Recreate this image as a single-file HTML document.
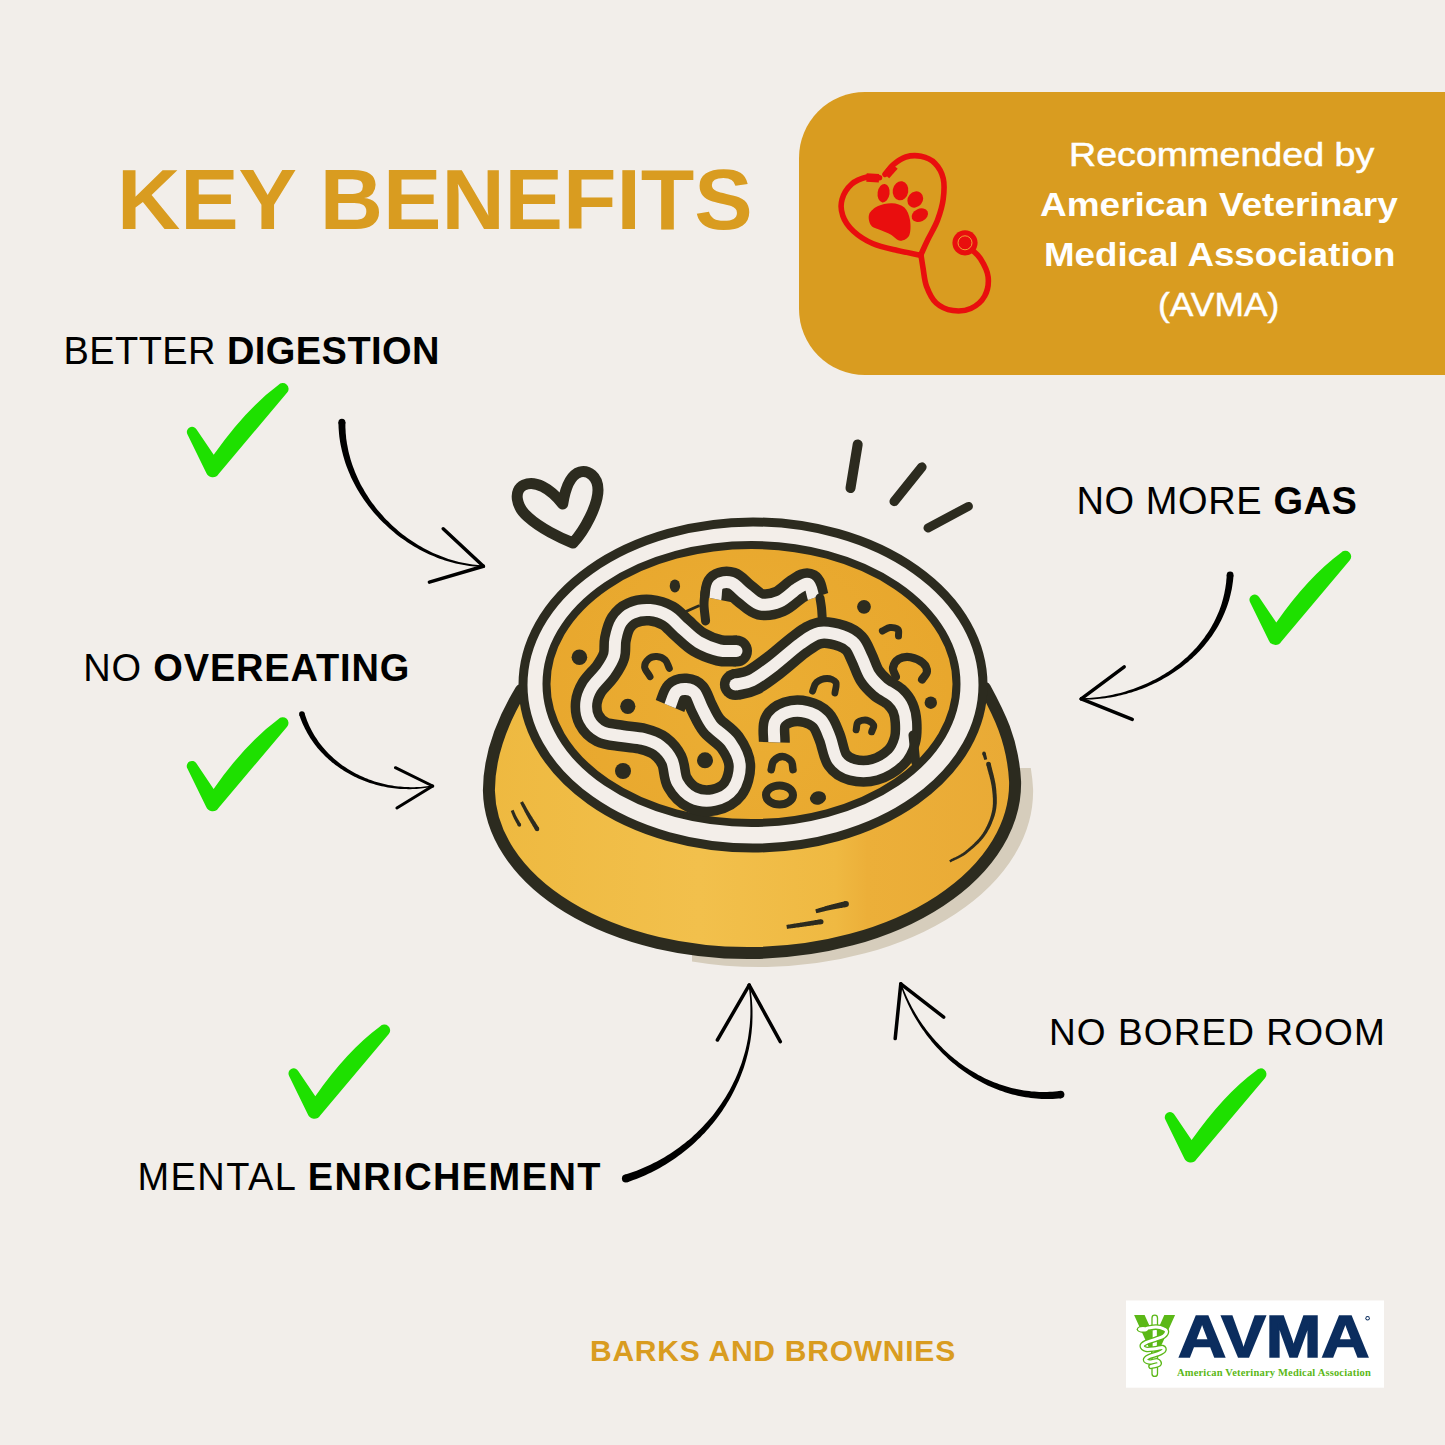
<!DOCTYPE html>
<html><head><meta charset="utf-8">
<style>
html,body{margin:0;padding:0;}
body{width:1445px;height:1445px;background:#F2EEEA;position:relative;overflow:hidden;font-family:"Liberation Sans",sans-serif;}
.t{position:absolute;white-space:nowrap;line-height:1;}
.b{font-weight:bold;}
svg{position:absolute;left:0;top:0;}
</style></head><body>
<div id="box" style="position:absolute;left:799px;top:92px;width:700px;height:283px;background:#D99C20;border-radius:66px 0 0 66px;"></div>
<svg id="art" width="1445" height="1445" viewBox="0 0 1445 1445">
<defs><linearGradient id="bg1" gradientUnits="userSpaceOnUse" x1="488" y1="0" x2="1015" y2="0"><stop offset="0" stop-color="#EEB940"/><stop offset="0.4" stop-color="#F2C04C"/><stop offset="0.66" stop-color="#EFB942"/><stop offset="0.72" stop-color="#ECAF39"/><stop offset="1" stop-color="#E9AA35"/></linearGradient><radialGradient id="fg1" gradientUnits="userSpaceOnUse" cx="740" cy="700" r="210"><stop offset="0" stop-color="#EBAE34"/><stop offset="1" stop-color="#E8A72D"/></radialGradient></defs><clipPath id="shc"><path d="M680 1100V900L1000 760H1100V1100Z"/></clipPath><path clip-path="url(#shc)" transform="translate(12 8)" d="M521 690C506 715 489 750 488.9 790.4A263.1 166.9 -0.95 0 0 1015.1 781.6C1013 740 998 712 985 688C950 630 755 560 560 620Z" fill="#D6CDBC" stroke="#D6CDBC" stroke-width="12"/><path d="M521 690C506 715 489 750 488.9 790.4A263.1 166.9 -0.95 0 0 1015.1 781.6C1013 740 998 712 985 688C950 630 755 560 560 620Z" fill="url(#bg1)"/><path d="M521 690C506 715 489 750 488.9 790.4A263.1 166.9 -0.95 0 0 1015.1 781.6C1013 740 998 712 985 688" fill="none" stroke="#2C2B1F" stroke-width="12" stroke-linecap="round"/><ellipse cx="753" cy="685" rx="230" ry="163" fill="#F3EEE9" stroke="#2C2B1F" stroke-width="9"/><ellipse cx="751.5" cy="684" rx="205" ry="139" fill="url(#fg1)" stroke="#2C2B1F" stroke-width="8"/><g fill="none" stroke="#2C2B1F" stroke-width="31" stroke-linecap="butt" stroke-linejoin="round"><path d="M736.5 651C730.7 650.8 725.6 651.8 719.2 650.3C712.9 648.8 704.6 645.7 698.4 642C692.2 638.3 686.9 632.5 681.8 628.1C676.7 623.7 673.3 618.7 668 615.7C662.7 612.7 656 610.6 650 610.1C644 609.6 636.9 610.8 632 612.9C627.1 615 623.7 618.2 620.9 622.6C618.1 627 616.5 633.7 615.4 639.2C614.2 644.7 615.6 650.5 614 655.8C612.4 661.1 609.4 665.7 605.7 671C602 676.3 595 682.3 591.8 687.6C588.6 692.9 586.8 697.6 586.3 702.9C585.8 708.2 586.5 714.7 589 719.5C591.5 724.3 596 729.1 601.5 731.9C607 734.7 615.4 734.9 622.3 736.1C629.2 737.3 636.8 737.3 643 738.9C649.2 740.5 654.9 742.2 659.7 745.8C664.5 749.4 668.8 754.2 671.8 760.3C674.8 766.4 673.9 776.2 677.4 782.4C680.9 788.6 686.5 794.7 692.6 797.6C698.7 800.5 707.3 801.4 714 800C720.7 798.6 728.7 794.8 733 789C737.3 783.2 740.2 772.8 739.7 765C739.2 757.2 734.6 748.8 730 742.3C725.4 735.8 716.7 731.4 712 725.7C707.3 720 704.8 713.5 702 708C699.2 702.5 697.7 696.2 695 693C692.3 689.8 689.2 689.2 686 689C682.8 688.8 678.7 689.2 676 692C673.3 694.8 672 701.3 670 706"/><path d="M715.3 599C716.2 594.3 715.5 587.6 718.1 584.9C720.8 582.2 726.7 581.3 731.2 582.8C735.7 584.3 740.1 590.3 745 593.9C749.9 597.5 754.5 603 760.3 604.3C766.1 605.6 773.5 604.1 779.7 601.5C785.9 598.9 792.8 591.3 797.6 588.4C802.4 585.5 806 582.6 808.7 584.2C811.4 585.8 812 593.4 813.6 598"/><path d="M735.4 684.6C740.9 683.2 745.5 683.6 752 680.4C758.5 677.2 766.1 671.3 774.1 665.2C782.1 659.1 792.5 649.4 800 644C807.5 638.6 812.4 634.4 819.4 633C826.4 631.6 835.9 634.1 841.7 635.9C847.5 637.7 850.9 639.9 854.3 643.6C857.7 647.3 859.4 652.8 862 658.1C864.6 663.4 866.7 670.8 869.8 675.6C872.9 680.5 876.2 683.6 880.4 687.2C884.6 690.8 891.2 693.5 895 697C898.8 700.5 901.2 703.8 903 708C904.8 712.2 905.7 716.7 906 722C906.3 727.3 906.7 734.2 905 740C903.3 745.8 901.1 752 896 757C890.9 762 881.9 767.6 874.6 769.7C867.3 771.8 858.3 771.4 852.1 769.7C845.9 768.1 840.9 765.2 837.2 759.8C833.5 754.4 832.4 743.9 829.7 737.3C827 730.6 825 724.1 821 719.9C817 715.6 811.6 713 806 711.8C800.4 710.5 792.6 710.6 787.4 712.4C782.2 714.2 777.1 717.4 774.9 722.4C772.7 727.4 774.5 735.7 774.3 742.3"/></g><g fill="#2C2B1F"><circle cx="736.5" cy="651" r="15.5"/><circle cx="735.4" cy="684.6" r="15.5"/></g><g fill="none" stroke="#F3EEE9" stroke-width="12" stroke-linecap="butt" stroke-linejoin="round"><path d="M736.5 651C730.7 650.8 725.6 651.8 719.2 650.3C712.9 648.8 704.6 645.7 698.4 642C692.2 638.3 686.9 632.5 681.8 628.1C676.7 623.7 673.3 618.7 668 615.7C662.7 612.7 656 610.6 650 610.1C644 609.6 636.9 610.8 632 612.9C627.1 615 623.7 618.2 620.9 622.6C618.1 627 616.5 633.7 615.4 639.2C614.2 644.7 615.6 650.5 614 655.8C612.4 661.1 609.4 665.7 605.7 671C602 676.3 595 682.3 591.8 687.6C588.6 692.9 586.8 697.6 586.3 702.9C585.8 708.2 586.5 714.7 589 719.5C591.5 724.3 596 729.1 601.5 731.9C607 734.7 615.4 734.9 622.3 736.1C629.2 737.3 636.8 737.3 643 738.9C649.2 740.5 654.9 742.2 659.7 745.8C664.5 749.4 668.8 754.2 671.8 760.3C674.8 766.4 673.9 776.2 677.4 782.4C680.9 788.6 686.5 794.7 692.6 797.6C698.7 800.5 707.3 801.4 714 800C720.7 798.6 728.7 794.8 733 789C737.3 783.2 740.2 772.8 739.7 765C739.2 757.2 734.6 748.8 730 742.3C725.4 735.8 716.7 731.4 712 725.7C707.3 720 704.8 713.5 702 708C699.2 702.5 697.7 696.2 695 693C692.3 689.8 689.2 689.2 686 689C682.8 688.8 678.7 689.2 676 692C673.3 694.8 672 701.3 670 706"/><path d="M715.3 599C716.2 594.3 715.5 587.6 718.1 584.9C720.8 582.2 726.7 581.3 731.2 582.8C735.7 584.3 740.1 590.3 745 593.9C749.9 597.5 754.5 603 760.3 604.3C766.1 605.6 773.5 604.1 779.7 601.5C785.9 598.9 792.8 591.3 797.6 588.4C802.4 585.5 806 582.6 808.7 584.2C811.4 585.8 812 593.4 813.6 598"/><path d="M735.4 684.6C740.9 683.2 745.5 683.6 752 680.4C758.5 677.2 766.1 671.3 774.1 665.2C782.1 659.1 792.5 649.4 800 644C807.5 638.6 812.4 634.4 819.4 633C826.4 631.6 835.9 634.1 841.7 635.9C847.5 637.7 850.9 639.9 854.3 643.6C857.7 647.3 859.4 652.8 862 658.1C864.6 663.4 866.7 670.8 869.8 675.6C872.9 680.5 876.2 683.6 880.4 687.2C884.6 690.8 891.2 693.5 895 697C898.8 700.5 901.2 703.8 903 708C904.8 712.2 905.7 716.7 906 722C906.3 727.3 906.7 734.2 905 740C903.3 745.8 901.1 752 896 757C890.9 762 881.9 767.6 874.6 769.7C867.3 771.8 858.3 771.4 852.1 769.7C845.9 768.1 840.9 765.2 837.2 759.8C833.5 754.4 832.4 743.9 829.7 737.3C827 730.6 825 724.1 821 719.9C817 715.6 811.6 713 806 711.8C800.4 710.5 792.6 710.6 787.4 712.4C782.2 714.2 777.1 717.4 774.9 722.4C772.7 727.4 774.5 735.7 774.3 742.3"/></g><g fill="#F3EEE9"><circle cx="736.5" cy="651" r="6"/><circle cx="735.4" cy="684.6" r="6"/></g><g fill="none" stroke="#2C2B1F" stroke-width="9" stroke-linecap="round"><path d="M705.6 621C705.1 615.7 704.1 609.8 704 605C703.9 600.2 704.7 596.3 705 592"/><path d="M822.3 619.4C822 615.6 821.9 611.6 821.5 608C821.1 604.4 820.5 601.3 820 598"/><path d="M913 735C913.5 740 914 745.5 914.5 750C915 754.5 915.3 758 915.7 762"/></g><path d="M686 611.5L698.4 606" stroke="#2C2B1F" stroke-width="3" stroke-linecap="round"/><g fill="#2C2B1F"><circle cx="579.4" cy="657.2" r="7.8"/><circle cx="627.8" cy="706.3" r="7.6"/><circle cx="623" cy="771" r="8"/><circle cx="705" cy="760.3" r="8"/><circle cx="864" cy="606.8" r="6.9"/><circle cx="930.8" cy="702.7" r="6.2"/><ellipse cx="674.9" cy="585.9" rx="5.2" ry="6.5"/><ellipse cx="818" cy="798" rx="8.1" ry="6.6" transform="rotate(-15 818 798)"/></g><ellipse cx="779.5" cy="795" rx="13.5" ry="9.5" fill="none" stroke="#2C2B1F" stroke-width="8"/><g fill="none" stroke="#2C2B1F" stroke-linecap="round" stroke-linejoin="round"><path d="M650 676.6C648.2 673.4 644.8 669.9 644.6 667C644.4 664.1 646.6 660.8 648.6 659C650.6 657.2 654.1 656.3 656.9 656.5C659.7 656.7 663.1 658 665.2 660C667.3 662 667.9 665.5 669.3 668.3" stroke-width="7"/><path d="M882.4 631C884.9 629.8 887.4 627.8 890 627.5C892.6 627.2 896.6 628.1 898 629.5C899.4 630.9 898.3 633.8 898.5 636" stroke-width="7"/><path d="M895.9 676.6C894.9 673.7 892.5 670.7 893 667.8C893.5 664.9 895.9 660.9 898.8 659.1C901.7 657.3 906.5 656.6 910.5 657.2C914.5 657.9 920.3 660.6 923 663C925.7 665.4 927 669 926.9 671.7C926.8 674.5 923.7 676.9 922.1 679.5" stroke-width="8.2"/><path d="M812.6 691.1C813.9 688.2 814.1 684.5 816.5 682.4C818.9 680.3 823.9 678.5 827.1 678.5C830.3 678.5 834.6 680 835.9 682.4C837.2 684.8 835.2 689.5 834.9 693" stroke-width="6.8"/><path d="M856.2 729.8C856.8 727.2 856.3 723.7 858.1 722.1C859.9 720.5 864.3 719.7 866.9 720.2C869.5 720.7 872.8 723.1 873.6 725C874.4 726.9 872.3 729.5 871.7 731.8" stroke-width="7"/><path d="M771.2 769.7C772 766.8 771.8 763.2 773.7 761C775.6 758.8 779.5 756.6 782.4 756.6C785.3 756.6 789.3 758.8 791.1 761C792.9 763.2 792.4 766.8 793 769.7" stroke-width="7.5"/></g><g fill="#2C2B1F"><path d="M539 827.8 L538.6 827.2 L538.2 826.6 L537.8 826 L537.4 825.3 L537 824.7 L536.6 824.1 L536.2 823.4 L535.8 822.8 L535.4 822.1 L535 821.5 L534.6 820.9 L534.1 820.2 L533.7 819.6 L533.3 819 L532.9 818.4 L532.6 817.7 L532.2 817.1 L531.8 816.5 L531.4 815.9 L531 815.3 L530.7 814.8 L530.3 814.2 L530 813.6 L529.6 813.1 L529.3 812.5 L529 812 L528.7 811.5 L528.4 810.9 L528.1 810.4 L527.8 809.9 L527.5 809.4 L527.2 808.9 L526.9 808.4 L526.7 808 L526.4 807.5 L526.1 807 L525.9 806.5 L525.6 806 L525.3 805.6 L525.1 805.1 L524.8 804.6 L524.5 804.1 L524.3 803.7 L524 803.2 L523.7 802.7 L523.5 802.2 L523.2 801.7 L522.9 801.2 L520.1 802.8 L520.3 803.3 L520.6 803.8 L520.9 804.2 L521.1 804.7 L521.3 805.2 L521.6 805.7 L521.8 806.2 L522.1 806.7 L522.3 807.2 L522.6 807.6 L522.8 808.1 L523.1 808.6 L523.3 809.1 L523.6 809.6 L523.8 810.1 L524.1 810.6 L524.3 811.1 L524.6 811.7 L524.9 812.2 L525.2 812.7 L525.5 813.3 L525.8 813.8 L526.1 814.4 L526.4 814.9 L526.7 815.5 L527 816.1 L527.4 816.7 L527.7 817.3 L528 817.9 L528.4 818.6 L528.8 819.2 L529.1 819.8 L529.5 820.5 L529.9 821.1 L530.3 821.7 L530.6 822.4 L531 823 L531.4 823.7 L531.8 824.3 L532.2 825 L532.5 825.7 L532.9 826.3 L533.3 827 L533.7 827.6 L534.1 828.3 L534.4 828.9 L534.8 829.5 L535.2 830.2Z"/><circle cx="537.1" cy="829" r="2.2"/><path d="M520.9 824 L520.7 823.7 L520.5 823.4 L520.3 823 L520.1 822.7 L519.9 822.4 L519.7 822 L519.5 821.7 L519.4 821.4 L519.2 821 L519 820.7 L518.8 820.4 L518.6 820 L518.4 819.7 L518.2 819.4 L518 819.1 L517.8 818.7 L517.6 818.4 L517.4 818.1 L517.3 817.8 L517.1 817.5 L516.9 817.2 L516.8 816.9 L516.6 816.6 L516.4 816.3 L516.3 816 L516.2 815.7 L516 815.4 L515.9 815.2 L515.8 814.9 L515.6 814.6 L515.5 814.4 L515.4 814.1 L515.3 813.8 L515.2 813.6 L515.1 813.3 L514.9 813 L514.8 812.8 L514.7 812.5 L514.6 812.2 L514.5 812 L514.4 811.7 L514.3 811.5 L514.2 811.2 L514.1 810.9 L513.9 810.6 L513.8 810.4 L513.7 810.1 L513.6 809.8 L510.8 811 L510.9 811.3 L511 811.5 L511.1 811.8 L511.2 812.1 L511.3 812.3 L511.4 812.6 L511.5 812.9 L511.6 813.1 L511.7 813.4 L511.9 813.7 L512 813.9 L512.1 814.2 L512.2 814.5 L512.3 814.8 L512.4 815 L512.5 815.3 L512.6 815.6 L512.7 815.9 L512.9 816.2 L513 816.5 L513.1 816.8 L513.3 817.1 L513.4 817.4 L513.6 817.7 L513.7 818 L513.9 818.4 L514 818.7 L514.2 819 L514.4 819.3 L514.5 819.7 L514.7 820 L514.9 820.3 L515.1 820.7 L515.3 821 L515.5 821.4 L515.6 821.7 L515.8 822 L516 822.4 L516.2 822.7 L516.4 823.1 L516.6 823.4 L516.8 823.7 L517 824.1 L517.1 824.4 L517.3 824.8 L517.5 825.1 L517.7 825.4 L517.9 825.8Z"/><circle cx="519.4" cy="824.9" r="1.8"/><path d="M845.3 901.2 L844.6 901.3 L844 901.5 L843.3 901.7 L842.6 901.8 L842 902 L841.3 902.1 L840.6 902.3 L840 902.5 L839.3 902.6 L838.6 902.8 L838 902.9 L837.3 903.1 L836.6 903.3 L836 903.4 L835.3 903.6 L834.6 903.7 L834 903.9 L833.3 904.1 L832.6 904.2 L832 904.4 L831.3 904.6 L830.7 904.8 L830.1 904.9 L829.4 905.1 L828.8 905.3 L828.2 905.4 L827.6 905.6 L826.9 905.8 L826.3 906 L825.7 906.1 L825.1 906.3 L824.5 906.5 L824 906.7 L823.4 906.9 L822.8 907 L822.2 907.2 L821.6 907.4 L821 907.6 L820.5 907.8 L819.9 907.9 L819.3 908.1 L818.7 908.3 L818.2 908.5 L817.6 908.7 L817 908.8 L816.4 909 L815.9 909.2 L815.3 909.4 L816.3 913.2 L816.9 913.1 L817.5 912.9 L818.1 912.8 L818.7 912.7 L819.3 912.5 L819.9 912.4 L820.5 912.2 L821 912.1 L821.6 912 L822.2 911.8 L822.8 911.7 L823.4 911.5 L824 911.4 L824.6 911.2 L825.1 911.1 L825.7 911 L826.3 910.8 L826.9 910.7 L827.5 910.6 L828.1 910.4 L828.7 910.3 L829.3 910.2 L830 910 L830.6 909.9 L831.2 909.8 L831.8 909.7 L832.5 909.5 L833.1 909.4 L833.8 909.3 L834.4 909.2 L835.1 909 L835.7 908.9 L836.4 908.8 L837.1 908.7 L837.7 908.6 L838.4 908.5 L839.1 908.3 L839.8 908.2 L840.4 908.1 L841.1 908 L841.8 907.9 L842.5 907.7 L843.1 907.6 L843.8 907.5 L844.5 907.4 L845.2 907.3 L845.9 907.2 L846.5 907Z"/><circle cx="845.9" cy="904.1" r="3"/><path d="M820.6 919.2 L819.9 919.4 L819.1 919.5 L818.4 919.6 L817.6 919.7 L816.8 919.9 L816.1 920 L815.3 920.1 L814.6 920.3 L813.8 920.4 L813 920.5 L812.3 920.7 L811.5 920.8 L810.8 920.9 L810 921 L809.3 921.2 L808.5 921.3 L807.8 921.4 L807 921.6 L806.3 921.7 L805.6 921.8 L804.8 921.9 L804.1 922 L803.4 922.2 L802.7 922.3 L802 922.4 L801.3 922.5 L800.6 922.6 L799.9 922.8 L799.2 922.9 L798.5 923 L797.8 923.1 L797.1 923.2 L796.5 923.3 L795.8 923.4 L795.1 923.5 L794.4 923.6 L793.8 923.7 L793.1 923.8 L792.4 924 L791.8 924.1 L791.1 924.2 L790.4 924.3 L789.8 924.4 L789.1 924.5 L788.4 924.6 L787.8 924.7 L787.1 924.8 L786.4 924.9 L787 928.9 L787.7 928.8 L788.3 928.7 L789 928.6 L789.7 928.5 L790.4 928.4 L791 928.3 L791.7 928.3 L792.4 928.2 L793 928.1 L793.7 928 L794.4 927.9 L795 927.8 L795.7 927.7 L796.4 927.6 L797.1 927.6 L797.8 927.5 L798.4 927.4 L799.1 927.3 L799.8 927.2 L800.5 927.1 L801.2 927 L801.9 926.9 L802.6 926.8 L803.3 926.7 L804.1 926.6 L804.8 926.5 L805.5 926.4 L806.2 926.3 L807 926.2 L807.7 926.1 L808.5 926 L809.2 925.9 L810 925.8 L810.7 925.7 L811.5 925.6 L812.3 925.5 L813 925.4 L813.8 925.2 L814.5 925.1 L815.3 925 L816.1 924.9 L816.8 924.8 L817.6 924.7 L818.4 924.6 L819.1 924.5 L819.9 924.4 L820.6 924.3 L821.4 924.2Z"/><circle cx="821" cy="921.7" r="2.5"/><path d="M986.3 764.5 L986.5 765.5 L986.8 766.5 L987 767.5 L987.3 768.5 L987.5 769.5 L987.8 770.5 L988.1 771.4 L988.4 772.4 L988.6 773.4 L988.9 774.4 L989.2 775.3 L989.4 776.3 L989.7 777.3 L989.9 778.2 L990.2 779.2 L990.4 780.1 L990.6 781.1 L990.8 782.1 L991 783 L991.2 784 L991.4 784.9 L991.6 785.9 L991.7 786.8 L991.8 787.7 L992 788.7 L992.1 789.7 L992.2 790.7 L992.3 791.6 L992.4 792.6 L992.5 793.6 L992.6 794.5 L992.7 795.5 L992.7 796.4 L992.8 797.4 L992.9 798.4 L992.9 799.3 L992.9 800.3 L992.9 801.2 L992.9 802.2 L992.9 803.1 L992.9 804.1 L992.8 805 L992.7 805.9 L992.7 806.9 L992.5 807.8 L992.4 808.7 L992.3 809.7 L992.1 810.6 L991.9 811.6 L991.7 812.5 L991.4 813.5 L991.2 814.5 L990.9 815.4 L990.6 816.4 L990.3 817.4 L990 818.4 L989.6 819.4 L989.3 820.4 L988.9 821.3 L988.5 822.3 L988.1 823.3 L987.6 824.3 L987.2 825.2 L986.7 826.2 L986.3 827.1 L985.8 828.1 L985.3 829 L984.8 829.9 L984.3 830.8 L983.8 831.7 L983.2 832.5 L982.7 833.4 L982.1 834.2 L981.5 835.1 L980.9 835.9 L980.2 836.7 L979.6 837.5 L978.9 838.4 L978.1 839.2 L977.4 840 L976.7 840.8 L975.9 841.6 L975.1 842.3 L974.4 843.1 L973.6 843.9 L972.8 844.6 L972 845.4 L971.2 846.1 L970.4 846.8 L969.6 847.5 L968.9 848.1 L968.1 848.8 L967.3 849.4 L966.6 850 L965.9 850.6 L965.2 851.2 L964.5 851.8 L963.8 852.3 L963.1 852.7 L962.5 853.2 L961.8 853.6 L961.1 854 L960.5 854.4 L959.8 854.8 L959.2 855.2 L958.5 855.5 L957.9 855.9 L957.2 856.2 L956.6 856.5 L955.9 856.9 L955.3 857.2 L954.6 857.5 L953.9 857.8 L953.3 858.1 L952.6 858.5 L951.9 858.8 L951.3 859.1 L950.6 859.5 L949.9 859.9 L949.2 860.2 L950.4 862.4 L951 862 L951.7 861.7 L952.4 861.3 L953 861 L953.7 860.7 L954.3 860.4 L955 860.1 L955.7 859.8 L956.3 859.5 L957 859.2 L957.7 858.8 L958.4 858.5 L959 858.2 L959.7 857.8 L960.4 857.5 L961.1 857.1 L961.8 856.7 L962.5 856.3 L963.2 855.9 L963.9 855.4 L964.7 855 L965.4 854.5 L966.1 853.9 L966.8 853.4 L967.6 852.8 L968.3 852.2 L969.1 851.6 L969.9 851 L970.7 850.3 L971.5 849.6 L972.3 849 L973.1 848.2 L974 847.5 L974.8 846.8 L975.6 846 L976.4 845.3 L977.2 844.5 L978.1 843.7 L978.9 842.9 L979.7 842.1 L980.4 841.2 L981.2 840.4 L981.9 839.6 L982.7 838.7 L983.4 837.8 L984.1 837 L984.7 836.1 L985.3 835.2 L985.9 834.3 L986.5 833.4 L987.1 832.5 L987.7 831.6 L988.2 830.6 L988.8 829.6 L989.3 828.7 L989.8 827.7 L990.3 826.7 L990.8 825.7 L991.2 824.7 L991.7 823.7 L992.1 822.6 L992.5 821.6 L992.9 820.6 L993.3 819.6 L993.7 818.5 L994 817.5 L994.4 816.5 L994.7 815.5 L995 814.4 L995.2 813.4 L995.5 812.4 L995.7 811.4 L995.9 810.4 L996.1 809.3 L996.3 808.3 L996.4 807.3 L996.5 806.3 L996.6 805.3 L996.7 804.3 L996.8 803.3 L996.8 802.2 L996.8 801.2 L996.8 800.2 L996.8 799.2 L996.8 798.2 L996.8 797.2 L996.7 796.2 L996.7 795.2 L996.6 794.2 L996.5 793.2 L996.4 792.2 L996.4 791.2 L996.3 790.2 L996.2 789.2 L996.1 788.2 L996 787.3 L995.8 786.2 L995.7 785.2 L995.6 784.2 L995.4 783.2 L995.2 782.2 L995 781.2 L994.8 780.2 L994.6 779.2 L994.4 778.2 L994.1 777.2 L993.9 776.2 L993.7 775.2 L993.4 774.2 L993.2 773.2 L992.9 772.2 L992.6 771.3 L992.4 770.3 L992.1 769.3 L991.9 768.3 L991.7 767.4 L991.4 766.4 L991.2 765.4 L991 764.4 L990.7 763.5Z"/><circle cx="988.5" cy="764" r="2.3"/><path d="M982.3 753.9 L982.4 754.1 L982.5 754.4 L982.6 754.7 L982.7 754.9 L982.7 755.2 L982.8 755.4 L982.9 755.7 L983 755.9 L983.1 756.2 L983.2 756.4 L983.3 756.7 L983.3 757 L983.4 757.2 L983.5 757.5 L983.6 757.7 L983.7 758 L983.8 758.2 L983.8 758.5 L983.9 758.7 L984 759 L984.1 759.3 L984.2 759.5 L984.3 759.8 L984.4 760 L987.2 759.2 L987.2 758.9 L987.1 758.7 L987 758.4 L987 758.1 L986.9 757.9 L986.9 757.6 L986.8 757.4 L986.7 757.1 L986.7 756.8 L986.6 756.6 L986.5 756.3 L986.5 756 L986.4 755.8 L986.3 755.5 L986.3 755.3 L986.2 755 L986.1 754.7 L986.1 754.5 L986 754.2 L985.9 754 L985.9 753.7 L985.8 753.4 L985.7 753.2 L985.7 752.9Z"/><circle cx="984" cy="753.4" r="1.8"/></g><path d="M562.7 504C550 488 535 480 524 485C513 490 516 507 528 517C540 528 560 538 573 543C585 530 598 505 598 490C598 476 588 470 580 472C570 475 565 490 562.7 504Z" fill="none" stroke="#2C2B1F" stroke-width="11" stroke-linejoin="round"/><g fill="none" stroke="#2C2B1F" stroke-linecap="round"><path d="M857.7 444.4L850.5 488.1" stroke-width="10"/><path d="M921.9 467.1L894.2 501.4" stroke-width="9.5"/><path d="M968.4 506.4L928 528" stroke-width="9"/></g>
<g fill="#1EE000"><path transform="translate(213.2 476.5)" d="M-25.7 -42L-7 -3.8A7 7 0 0 0 5.4 -2.5L74 -83.9A5.5 5.5 0 0 0 65.2 -91.4Q32.4 -67.3 0.5 -21.7L-16.6 -47A5 5 0 0 0 -25.7 -42Z"/><path transform="translate(213.1 810.6)" d="M-25.7 -42L-7 -3.8A7 7 0 0 0 5.4 -2.5L74 -83.9A5.5 5.5 0 0 0 65.2 -91.4Q32.4 -67.3 0.5 -21.7L-16.6 -47A5 5 0 0 0 -25.7 -42Z"/><path transform="translate(314.8 1118)" d="M-25.7 -42L-7 -3.8A7 7 0 0 0 5.4 -2.5L74 -83.9A5.5 5.5 0 0 0 65.2 -91.4Q32.4 -67.3 0.5 -21.7L-16.6 -47A5 5 0 0 0 -25.7 -42Z"/><path transform="translate(1275.8 644.2)" d="M-25.7 -42L-7 -3.8A7 7 0 0 0 5.4 -2.5L74 -83.9A5.5 5.5 0 0 0 65.2 -91.4Q32.4 -67.3 0.5 -21.7L-16.6 -47A5 5 0 0 0 -25.7 -42Z"/><path transform="translate(1191.1 1161.8)" d="M-25.7 -42L-7 -3.8A7 7 0 0 0 5.4 -2.5L74 -83.9A5.5 5.5 0 0 0 65.2 -91.4Q32.4 -67.3 0.5 -21.7L-16.6 -47A5 5 0 0 0 -25.7 -42Z"/></g><g fill="#000"><path d="M338.4 422.2 L338.5 425.1 L338.6 427.9 L338.8 430.8 L339 433.6 L339.3 436.4 L339.7 439.2 L340.1 442 L340.6 444.8 L341.2 447.6 L341.8 450.3 L342.5 453.1 L343.2 455.8 L344 458.5 L344.8 461.2 L345.7 463.9 L346.6 466.5 L347.6 469.1 L348.7 471.7 L349.8 474.3 L350.9 476.9 L352.1 479.4 L353.4 482 L354.7 484.5 L356 486.9 L357.4 489.4 L358.8 491.8 L360.3 494.2 L361.8 496.6 L363.4 498.9 L365 501.2 L366.7 503.5 L368.3 505.8 L370.1 508 L371.9 510.2 L373.7 512.4 L375.5 514.5 L377.4 516.6 L379.3 518.7 L381.3 520.7 L383.3 522.7 L385.3 524.6 L387.4 526.6 L389.5 528.5 L391.6 530.3 L393.7 532.1 L395.9 533.9 L398.1 535.7 L400.4 537.4 L402.7 539 L405 540.6 L407.3 542.2 L409.7 543.7 L412.1 545.2 L414.5 546.7 L416.9 548.1 L419.3 549.5 L421.8 550.8 L424.3 552 L426.8 553.3 L429.4 554.4 L432 555.6 L434.5 556.6 L437.1 557.7 L439.7 558.7 L442.4 559.6 L445 560.5 L447.7 561.3 L450.4 562.1 L453.1 562.8 L455.8 563.4 L458.5 564.1 L461.2 564.6 L464 565.1 L466.7 565.6 L469.5 565.9 L472.2 566.3 L475 566.5 L477.8 566.8 L480.6 566.9 L483.4 567 L483.4 565.4 L480.7 565.2 L477.9 565 L475.2 564.7 L472.5 564.4 L469.7 564 L467 563.6 L464.3 563.1 L461.6 562.5 L459 561.9 L456.3 561.2 L453.7 560.5 L451 559.7 L448.4 558.9 L445.8 558 L443.3 557.1 L440.7 556.1 L438.2 555.1 L435.6 554.1 L433.1 552.9 L430.6 551.8 L428.2 550.6 L425.7 549.3 L423.3 548 L420.9 546.6 L418.5 545.3 L416.2 543.8 L413.9 542.3 L411.6 540.8 L409.3 539.3 L407.1 537.7 L404.9 536 L402.7 534.4 L400.5 532.7 L398.4 530.9 L396.3 529.1 L394.2 527.3 L392.2 525.4 L390.2 523.5 L388.3 521.6 L386.3 519.7 L384.4 517.7 L382.6 515.6 L380.8 513.6 L379 511.5 L377.2 509.4 L375.5 507.2 L373.9 505.1 L372.2 502.9 L370.6 500.7 L369.1 498.4 L367.6 496.1 L366.1 493.8 L364.7 491.5 L363.4 489.1 L362 486.8 L360.7 484.4 L359.5 482 L358.3 479.5 L357.2 477.1 L356.1 474.6 L355 472.1 L354.1 469.6 L353.1 467.1 L352.2 464.5 L351.4 462 L350.6 459.4 L349.9 456.8 L349.2 454.2 L348.5 451.6 L348 449 L347.5 446.3 L347 443.7 L346.6 441 L346.2 438.4 L346 435.7 L345.7 433 L345.6 430.3 L345.4 427.6 L345.4 424.9 L345.4 422.2Z"/><circle cx="341.9" cy="422.2" r="3.5"/><g fill="none" stroke="#000" stroke-width="3.5" stroke-linecap="round" stroke-linejoin="round"><path d="M443.2 528.8L483.4 566.2"/><path d="M429.4 582.1L483.4 566.2"/></g><path d="M299.3 714.8 L300 716.9 L300.7 718.9 L301.5 720.9 L302.3 722.9 L303.2 724.9 L304.1 726.8 L305 728.7 L306 730.6 L307 732.5 L308 734.3 L309.1 736.1 L310.2 737.9 L311.3 739.6 L312.5 741.3 L313.7 743 L315 744.7 L316.2 746.3 L317.5 747.9 L318.9 749.5 L320.2 751 L321.6 752.5 L323.1 754 L324.5 755.5 L326 756.9 L327.5 758.3 L329 759.7 L330.6 761 L332.1 762.4 L333.7 763.6 L335.4 764.9 L337 766.1 L338.7 767.3 L340.4 768.5 L342.1 769.6 L343.8 770.7 L345.5 771.8 L347.3 772.8 L349.1 773.8 L350.9 774.8 L352.7 775.8 L354.6 776.7 L356.4 777.6 L358.3 778.4 L360.2 779.3 L362.1 780 L364 780.8 L365.9 781.5 L367.9 782.2 L369.8 782.9 L371.8 783.5 L373.7 784.1 L375.7 784.7 L377.7 785.2 L379.7 785.7 L381.7 786.2 L383.7 786.6 L385.7 787 L387.8 787.4 L389.8 787.7 L391.8 788 L393.9 788.3 L395.9 788.5 L398 788.7 L400 788.9 L402.1 789 L404.2 789.1 L406.2 789.1 L408.3 789.2 L410.3 789.2 L412.4 789.1 L414.5 789 L416.5 788.9 L418.6 788.8 L420.6 788.6 L422.7 788.3 L424.7 788.1 L426.8 787.8 L428.8 787.5 L430.8 787.1 L432.8 786.7 L432.6 785.3 L430.6 785.7 L428.6 786 L426.5 786.3 L424.5 786.5 L422.5 786.7 L420.5 786.9 L418.5 787 L416.4 787.1 L414.4 787.2 L412.4 787.2 L410.3 787.2 L408.3 787.1 L406.3 787.1 L404.3 787 L402.2 786.8 L400.2 786.6 L398.2 786.4 L396.2 786.2 L394.2 785.9 L392.2 785.6 L390.2 785.3 L388.2 784.9 L386.3 784.5 L384.3 784 L382.3 783.6 L380.4 783.1 L378.4 782.5 L376.5 782 L374.6 781.4 L372.7 780.7 L370.8 780.1 L368.9 779.4 L367 778.6 L365.2 777.9 L363.3 777.1 L361.5 776.3 L359.7 775.4 L357.9 774.6 L356.1 773.7 L354.3 772.7 L352.6 771.7 L350.9 770.8 L349.2 769.7 L347.5 768.7 L345.8 767.6 L344.2 766.5 L342.5 765.4 L340.9 764.2 L339.3 763 L337.8 761.8 L336.3 760.5 L334.7 759.3 L333.3 757.9 L331.8 756.6 L330.4 755.3 L329 753.9 L327.6 752.5 L326.2 751 L324.9 749.6 L323.6 748.1 L322.3 746.6 L321.1 745 L319.9 743.5 L318.7 741.9 L317.6 740.3 L316.5 738.6 L315.4 737 L314.3 735.3 L313.3 733.6 L312.3 731.8 L311.4 730.1 L310.5 728.3 L309.6 726.5 L308.8 724.7 L308 722.8 L307.2 720.9 L306.5 719 L305.8 717.1 L305.1 715.1 L304.5 713.2Z"/><circle cx="301.9" cy="714" r="2.8"/><g fill="none" stroke="#000" stroke-width="3" stroke-linecap="round" stroke-linejoin="round"><path d="M395.4 767.7L432.7 786"/><path d="M396.9 808L432.7 786"/></g><path d="M627.1 1182.3 L630.2 1181.3 L633.3 1180.1 L636.4 1179 L639.4 1177.8 L642.4 1176.5 L645.4 1175.2 L648.3 1173.8 L651.2 1172.4 L654.1 1171 L657 1169.5 L659.8 1167.9 L662.6 1166.3 L665.3 1164.7 L668 1163 L670.7 1161.3 L673.4 1159.5 L676 1157.7 L678.6 1155.8 L681.1 1154 L683.6 1152 L686.1 1150 L688.6 1148 L691 1146 L693.3 1143.9 L695.7 1141.7 L697.9 1139.6 L700.2 1137.4 L702.4 1135.1 L704.6 1132.9 L706.7 1130.5 L708.8 1128.2 L710.8 1125.8 L712.8 1123.4 L714.8 1121 L716.7 1118.5 L718.6 1116 L720.4 1113.5 L722.2 1110.9 L723.9 1108.3 L725.6 1105.7 L727.2 1103.1 L728.8 1100.4 L730.4 1097.7 L731.9 1095 L733.3 1092.2 L734.7 1089.4 L736.1 1086.6 L737.4 1083.8 L738.7 1081 L739.9 1078.1 L741 1075.2 L742.1 1072.3 L743.2 1069.4 L744.2 1066.4 L745.1 1063.5 L746 1060.5 L746.8 1057.5 L747.6 1054.5 L748.3 1051.4 L749 1048.4 L749.6 1045.3 L750.2 1042.2 L750.7 1039.1 L751.1 1036 L751.5 1032.9 L751.8 1029.8 L752.1 1026.6 L752.3 1023.5 L752.4 1020.3 L752.5 1017.1 L752.5 1013.9 L752.5 1010.7 L752.4 1007.5 L752.2 1004.3 L752 1001.1 L751.7 997.9 L751.3 994.7 L750.9 991.5 L750.4 988.2 L749.9 985 L748.5 985.2 L749 988.4 L749.4 991.7 L749.7 994.9 L750 998.1 L750.2 1001.3 L750.3 1004.4 L750.4 1007.6 L750.4 1010.8 L750.4 1013.9 L750.3 1017.1 L750.1 1020.2 L749.9 1023.3 L749.6 1026.4 L749.2 1029.5 L748.8 1032.6 L748.4 1035.6 L747.9 1038.7 L747.3 1041.7 L746.7 1044.7 L746 1047.7 L745.3 1050.7 L744.5 1053.6 L743.6 1056.6 L742.7 1059.5 L741.8 1062.4 L740.8 1065.3 L739.7 1068.1 L738.6 1071 L737.5 1073.8 L736.3 1076.6 L735 1079.4 L733.7 1082.1 L732.4 1084.8 L731 1087.5 L729.6 1090.2 L728.1 1092.8 L726.5 1095.5 L725 1098 L723.3 1100.6 L721.7 1103.1 L720 1105.6 L718.2 1108.1 L716.4 1110.6 L714.6 1113 L712.7 1115.4 L710.8 1117.7 L708.8 1120 L706.8 1122.3 L704.7 1124.6 L702.7 1126.8 L700.5 1129 L698.4 1131.1 L696.2 1133.2 L693.9 1135.3 L691.7 1137.4 L689.4 1139.4 L687 1141.3 L684.7 1143.3 L682.2 1145.1 L679.8 1147 L677.3 1148.8 L674.8 1150.6 L672.3 1152.3 L669.7 1154 L667.1 1155.6 L664.5 1157.2 L661.8 1158.7 L659.1 1160.3 L656.4 1161.7 L653.6 1163.1 L650.9 1164.5 L648.1 1165.8 L645.2 1167.1 L642.4 1168.3 L639.5 1169.5 L636.6 1170.7 L633.6 1171.7 L630.7 1172.8 L627.7 1173.8 L624.7 1174.7Z"/><circle cx="625.9" cy="1178.5" r="4"/><g fill="none" stroke="#000" stroke-width="3.5" stroke-linecap="round" stroke-linejoin="round"><path d="M717.4 1040L749.2 985.1"/><path d="M780.3 1041.6L749.2 985.1"/></g><path d="M1060.2 1090.9 L1057.5 1091.2 L1054.9 1091.4 L1052.3 1091.7 L1049.7 1091.8 L1047.1 1091.9 L1044.5 1091.9 L1041.9 1091.9 L1039.3 1091.9 L1036.7 1091.8 L1034.2 1091.6 L1031.6 1091.4 L1029.1 1091.1 L1026.5 1090.8 L1024 1090.4 L1021.5 1090 L1019 1089.6 L1016.5 1089.1 L1014 1088.5 L1011.5 1087.9 L1009.1 1087.3 L1006.6 1086.6 L1004.2 1085.8 L1001.8 1085 L999.3 1084.2 L997 1083.3 L994.6 1082.4 L992.2 1081.5 L989.9 1080.5 L987.6 1079.4 L985.2 1078.4 L982.9 1077.2 L980.7 1076.1 L978.4 1074.9 L976.2 1073.6 L974 1072.3 L971.8 1071 L969.6 1069.7 L967.4 1068.3 L965.3 1066.9 L963.2 1065.4 L961.1 1063.9 L959 1062.4 L957 1060.8 L954.9 1059.2 L952.9 1057.6 L951 1055.9 L949 1054.2 L947.1 1052.5 L945.2 1050.7 L943.3 1048.9 L941.5 1047.1 L939.7 1045.2 L937.9 1043.3 L936.1 1041.4 L934.4 1039.5 L932.6 1037.5 L931 1035.5 L929.3 1033.5 L927.7 1031.5 L926.1 1029.4 L924.6 1027.3 L923 1025.2 L921.5 1023.1 L920.1 1020.9 L918.6 1018.7 L917.3 1016.5 L915.9 1014.3 L914.6 1012 L913.3 1009.7 L912 1007.5 L910.8 1005.1 L909.6 1002.8 L908.5 1000.5 L907.3 998.1 L906.3 995.7 L905.2 993.3 L904.2 990.9 L903.3 988.5 L902.3 986 L901.5 983.6 L900.1 984 L901 986.5 L901.8 989 L902.7 991.5 L903.6 994 L904.6 996.4 L905.6 998.9 L906.7 1001.3 L907.8 1003.7 L908.9 1006.1 L910.1 1008.5 L911.3 1010.8 L912.5 1013.2 L913.8 1015.5 L915.1 1017.8 L916.5 1020.1 L917.9 1022.3 L919.3 1024.6 L920.7 1026.8 L922.2 1029 L923.8 1031.1 L925.3 1033.3 L926.9 1035.4 L928.5 1037.5 L930.2 1039.6 L931.8 1041.7 L933.6 1043.7 L935.3 1045.7 L937.1 1047.7 L938.9 1049.6 L940.7 1051.5 L942.6 1053.4 L944.5 1055.3 L946.4 1057.1 L948.3 1058.9 L950.3 1060.7 L952.3 1062.4 L954.3 1064.1 L956.4 1065.8 L958.5 1067.4 L960.6 1069 L962.7 1070.6 L964.8 1072.1 L967 1073.6 L969.2 1075.1 L971.5 1076.5 L973.7 1077.9 L976 1079.2 L978.3 1080.5 L980.6 1081.8 L982.9 1083 L985.3 1084.2 L987.7 1085.4 L990.1 1086.5 L992.5 1087.5 L994.9 1088.5 L997.4 1089.5 L999.9 1090.5 L1002.4 1091.3 L1004.9 1092.2 L1007.4 1093 L1009.9 1093.7 L1012.5 1094.4 L1015.1 1095.1 L1017.7 1095.7 L1020.3 1096.3 L1022.9 1096.8 L1025.6 1097.2 L1028.2 1097.6 L1030.9 1098 L1033.6 1098.3 L1036.3 1098.5 L1039 1098.7 L1041.7 1098.9 L1044.4 1099 L1047.2 1099 L1049.9 1099 L1052.7 1098.9 L1055.5 1098.8 L1058.2 1098.6 L1061 1098.3Z"/><circle cx="1060.6" cy="1094.6" r="3.8"/><g fill="none" stroke="#000" stroke-width="3.5" stroke-linecap="round" stroke-linejoin="round"><path d="M895.2 1038.5L900.8 983.8"/><path d="M943.7 1017.1L900.8 983.8"/></g><path d="M1226.7 574.8 L1226.6 577.5 L1226.3 580.2 L1226.1 582.9 L1225.7 585.6 L1225.3 588.2 L1224.8 590.8 L1224.3 593.4 L1223.7 596 L1223.1 598.5 L1222.4 601 L1221.7 603.5 L1220.9 606 L1220 608.4 L1219.1 610.9 L1218.1 613.2 L1217.1 615.6 L1216 617.9 L1214.9 620.2 L1213.8 622.5 L1212.5 624.8 L1211.3 627 L1210 629.2 L1208.6 631.4 L1207.2 633.5 L1205.7 635.6 L1204.3 637.7 L1202.7 639.8 L1201.1 641.8 L1199.5 643.8 L1197.9 645.8 L1196.2 647.7 L1194.4 649.6 L1192.6 651.5 L1190.8 653.3 L1189 655.1 L1187.1 656.9 L1185.1 658.6 L1183.2 660.3 L1181.2 662 L1179.2 663.7 L1177.1 665.3 L1175 666.8 L1172.9 668.4 L1170.8 669.9 L1168.6 671.4 L1166.4 672.8 L1164.2 674.2 L1161.9 675.5 L1159.6 676.9 L1157.3 678.2 L1155 679.4 L1152.6 680.6 L1150.3 681.8 L1147.9 682.9 L1145.5 684 L1143 685.1 L1140.6 686.1 L1138.1 687.1 L1135.6 688.1 L1133.1 689 L1130.6 689.8 L1128.1 690.6 L1125.5 691.4 L1123 692.2 L1120.4 692.9 L1117.9 693.5 L1115.3 694.1 L1112.7 694.7 L1110.1 695.2 L1107.5 695.7 L1104.9 696.2 L1102.2 696.6 L1099.6 696.9 L1097 697.3 L1094.4 697.5 L1091.7 697.8 L1089.1 697.9 L1086.5 698.1 L1083.8 698.2 L1081.2 698.2 L1081.2 699.6 L1083.9 699.6 L1086.5 699.6 L1089.2 699.5 L1091.8 699.4 L1094.5 699.3 L1097.2 699.1 L1099.8 698.8 L1102.5 698.5 L1105.2 698.2 L1107.8 697.8 L1110.5 697.4 L1113.1 696.9 L1115.8 696.4 L1118.4 695.8 L1121 695.2 L1123.6 694.6 L1126.2 693.9 L1128.8 693.1 L1131.4 692.4 L1134 691.6 L1136.6 690.7 L1139.1 689.8 L1141.7 688.9 L1144.2 687.9 L1146.7 686.9 L1149.2 685.8 L1151.6 684.7 L1154.1 683.6 L1156.5 682.4 L1158.9 681.2 L1161.3 679.9 L1163.7 678.6 L1166 677.3 L1168.3 675.9 L1170.6 674.5 L1172.9 673.1 L1175.1 671.6 L1177.3 670.1 L1179.5 668.5 L1181.7 666.9 L1183.8 665.3 L1185.9 663.6 L1188 661.9 L1190 660.1 L1192 658.4 L1193.9 656.5 L1195.9 654.7 L1197.8 652.8 L1199.6 650.9 L1201.4 648.9 L1203.2 646.9 L1204.9 644.9 L1206.6 642.8 L1208.3 640.7 L1209.9 638.6 L1211.5 636.5 L1213 634.3 L1214.4 632 L1215.9 629.8 L1217.3 627.5 L1218.6 625.2 L1219.9 622.8 L1221.1 620.4 L1222.3 618 L1223.4 615.5 L1224.5 613 L1225.5 610.5 L1226.5 608 L1227.4 605.4 L1228.3 602.8 L1229.1 600.2 L1229.8 597.5 L1230.5 594.8 L1231.1 592.1 L1231.7 589.4 L1232.2 586.6 L1232.6 583.8 L1233 580.9 L1233.3 578.1 L1233.5 575.2Z"/><circle cx="1230.1" cy="575" r="3.4"/><g fill="none" stroke="#000" stroke-width="3.5" stroke-linecap="round" stroke-linejoin="round"><path d="M1124.2 666.9L1081.2 698.9"/><path d="M1132.3 719.4L1081.2 698.9"/></g></g>
<g fill="none" stroke="#E90E0E" stroke-width="5.6" stroke-linecap="round" stroke-linejoin="round"><path d="M879.5 177.7C875.3 177.5 871.6 175.9 867 177C862.4 178.1 855.9 180.3 851.8 184C847.6 187.7 843.6 193.9 842.1 199.2C840.6 204.5 840.9 210.5 842.8 215.8C844.6 221.1 848.2 226.4 853.2 231C858.2 235.6 865.2 240.3 872.6 243.5C880 246.7 889.4 248.5 897.5 250.4C905.6 252.3 913.2 253.6 921 255.2"/><path d="M885 174.3C887.8 171.1 889.8 167.5 893.3 164.6C896.8 161.7 901.2 158.4 905.8 157C910.4 155.6 916.1 155.3 921 156.3C925.9 157.3 931.2 159.5 934.9 163.2C938.6 166.9 941.8 172.4 943.2 178.4C944.6 184.4 944.1 192.3 943.2 199.2C942.3 206.1 940.1 213.3 937.6 220C935.1 226.7 930.8 233.6 928 239.3C925.2 245.1 923.3 249.4 921 254.5"/><path d="M921 255.2C921.7 259.6 922.2 263.2 923.1 268.4C924 273.6 924.4 280.6 926.6 286.4C928.8 292.2 931.8 299 936.2 303C940.6 307 947.1 309.7 952.9 310.6C958.7 311.5 965.5 310.9 970.8 308.5C976.1 306.1 981.8 301.3 984.7 296C987.6 290.7 988.8 282.9 988.1 276.7C987.4 270.5 983.5 263.5 980.5 258.7C977.5 253.9 973.5 251.6 970 248"/><path d="M866.5 177.6L879 178.2" stroke-width="8.5" stroke-linecap="butt"/><path d="M886 175.5L894.5 166" stroke-width="8.5" stroke-linecap="butt"/></g><circle cx="965" cy="242.8" r="12.6" fill="#E90E0E"/><circle cx="965" cy="242.8" r="7" fill="none" stroke="#F2B23A" stroke-width="0.9"/><path d="M869.1 214.4C870.2 211.2 874.3 207.9 878.1 206.1C881.9 204.2 887.6 203.1 892 203.3C896.4 203.5 901.4 204.7 904.4 207.5C907.4 210.3 909.2 215.4 910 220C910.8 224.6 910.9 231.8 909.3 235.2C907.7 238.6 903.4 240.8 900.3 240.7C897.2 240.6 893.8 236.2 890.6 234.5C887.4 232.8 884.1 231.8 880.9 230.3C877.7 228.8 873.2 228.2 871.2 225.5C869.2 222.8 868 217.6 869.1 214.4Z" fill="#E90E0E"/><g fill="#E90E0E"><ellipse cx="0" cy="0" rx="6" ry="9.3" transform="translate(883.6 193.2) rotate(8)"/><ellipse cx="0" cy="0" rx="7.8" ry="9.6" transform="translate(900.5 190.8) rotate(10)"/><ellipse cx="0" cy="0" rx="7.4" ry="8.6" transform="translate(915.3 199.5) rotate(40)"/><ellipse cx="0" cy="0" rx="8.6" ry="6.4" transform="translate(919.8 215.2) rotate(-25)"/></g>
<rect x="1126" y="1300.5" width="258" height="87.2" fill="#fff"/><path d="M1134.1 1315H1144.6L1154.6 1337.1L1164.3 1315H1175.1L1154.6 1360.3Z" fill="#5BB817"/><rect x="1152" y="1315.2" width="5.5" height="61.2" rx="2.75" fill="#fff" stroke="#5BB817" stroke-width="1.3"/><path d="M1147.1 1328.2C1150.1 1327.8 1153.2 1327 1156 1327.1C1158.8 1327.2 1162 1328 1163.7 1328.8C1165.5 1329.5 1166.5 1330.4 1166.5 1331.6C1166.5 1332.8 1165.5 1334.7 1163.7 1336C1161.9 1337.3 1158.4 1338.2 1155.4 1339.3C1152.5 1340.4 1148.2 1341.5 1146 1342.6C1143.8 1343.7 1142.2 1344.9 1142.2 1346C1142.2 1347.1 1143.8 1348.8 1146 1349.3C1148.2 1349.8 1152.6 1349 1155.4 1348.7C1158.2 1348.4 1161.2 1347.3 1162.6 1347.6C1164 1347.9 1164.4 1349.4 1163.7 1350.4C1163 1351.4 1160.6 1352.7 1158.2 1353.7C1155.8 1354.7 1151.4 1355.5 1149.3 1356.5C1147.2 1357.5 1145.5 1358.9 1145.5 1359.8C1145.5 1360.7 1147.4 1361.8 1149.3 1362C1151.2 1362.2 1155.5 1360.5 1157.1 1360.9C1158.7 1361.3 1159.8 1363.3 1158.8 1364.2C1157.8 1365.1 1153.6 1365.7 1151 1366.4" fill="none" stroke="#5BB817" stroke-width="5.6" stroke-linecap="round" stroke-linejoin="round"/><ellipse cx="1143" cy="1329.3" rx="6.3" ry="3.6" fill="#5BB817"/><path d="M1147.1 1328.2C1150.1 1327.8 1153.2 1327 1156 1327.1C1158.8 1327.2 1162 1328 1163.7 1328.8C1165.5 1329.5 1166.5 1330.4 1166.5 1331.6C1166.5 1332.8 1165.5 1334.7 1163.7 1336C1161.9 1337.3 1158.4 1338.2 1155.4 1339.3C1152.5 1340.4 1148.2 1341.5 1146 1342.6C1143.8 1343.7 1142.2 1344.9 1142.2 1346C1142.2 1347.1 1143.8 1348.8 1146 1349.3C1148.2 1349.8 1152.6 1349 1155.4 1348.7C1158.2 1348.4 1161.2 1347.3 1162.6 1347.6C1164 1347.9 1164.4 1349.4 1163.7 1350.4C1163 1351.4 1160.6 1352.7 1158.2 1353.7C1155.8 1354.7 1151.4 1355.5 1149.3 1356.5C1147.2 1357.5 1145.5 1358.9 1145.5 1359.8C1145.5 1360.7 1147.4 1361.8 1149.3 1362C1151.2 1362.2 1155.5 1360.5 1157.1 1360.9C1158.7 1361.3 1159.8 1363.3 1158.8 1364.2C1157.8 1365.1 1153.6 1365.7 1151 1366.4" fill="none" stroke="#fff" stroke-width="3" stroke-linecap="round" stroke-linejoin="round"/><ellipse cx="1143" cy="1329.3" rx="5" ry="2.3" fill="#fff"/><circle cx="1367.6" cy="1318.2" r="2.2" fill="#0B2D5E"/><circle cx="1367.6" cy="1318.2" r="1.2" fill="#fff"/>
</svg>
<div class="t b" id="title" style="left:117px;top:156.5px;font-size:85px;transform:scaleX(1.03);transform-origin:0 0;color:#D99C20;">KEY BENEFITS</div>
<div class="t" id="rec" style="left:1068.5px;top:138px;font-size:33px;transform:scaleX(1.14);transform-origin:0 0;color:#fff;-webkit-text-stroke:0.5px #fff;">Recommended by</div>
<div class="t b" id="amv" style="left:1039.5px;top:188px;font-size:33px;transform:scaleX(1.121);transform-origin:0 0;color:#fff;">American Veterinary</div>
<div class="t b" id="mda" style="left:1044px;top:238px;font-size:33px;transform:scaleX(1.112);transform-origin:0 0;color:#fff;">Medical Association</div>
<div class="t" id="avma" style="left:1158px;top:288px;font-size:33px;transform:scaleX(1.073);transform-origin:0 0;color:#fff;-webkit-text-stroke:0.4px #fff;">(AVMA)</div>
<div class="t" id="l1" style="left:63.5px;top:332px;font-size:38px;letter-spacing:0.43px;color:#000;">BETTER <b>DIGESTION</b></div>
<div class="t" id="l2" style="left:83.3px;top:648.5px;font-size:38px;letter-spacing:0.83px;color:#000;">NO <b>OVEREATING</b></div>
<div class="t" id="l3" style="left:137.5px;top:1157.5px;font-size:38px;letter-spacing:1.4px;color:#000;">MENTAL <b>ENRICHEMENT</b></div>
<div class="t" id="l4" style="left:1049px;top:1014px;font-size:37px;letter-spacing:1.08px;color:#000;">NO BORED ROOM</div>
<div class="t" id="l5" style="left:1076.5px;top:481.5px;font-size:38px;letter-spacing:0.6px;color:#000;">NO MORE <b>GAS</b></div>
<div class="t b" id="bb" style="left:590px;top:1336px;font-size:30px;letter-spacing:0.76px;color:#D99C20;">BARKS AND BROWNIES</div>
<div class="t b" id="avmat" style="left:1178px;top:1307px;font-size:59.4px;transform:scaleX(1.123);transform-origin:0 0;color:#0B2D5E;-webkit-text-stroke:1.6px #0B2D5E;">AVMA</div>
<div class="t b" id="avmas" style="left:1177px;top:1367.5px;font-size:10.5px;letter-spacing:0.18px;font-family:'Liberation Serif',serif;color:#5BB817;">American Veterinary Medical Association</div>
</body></html>
